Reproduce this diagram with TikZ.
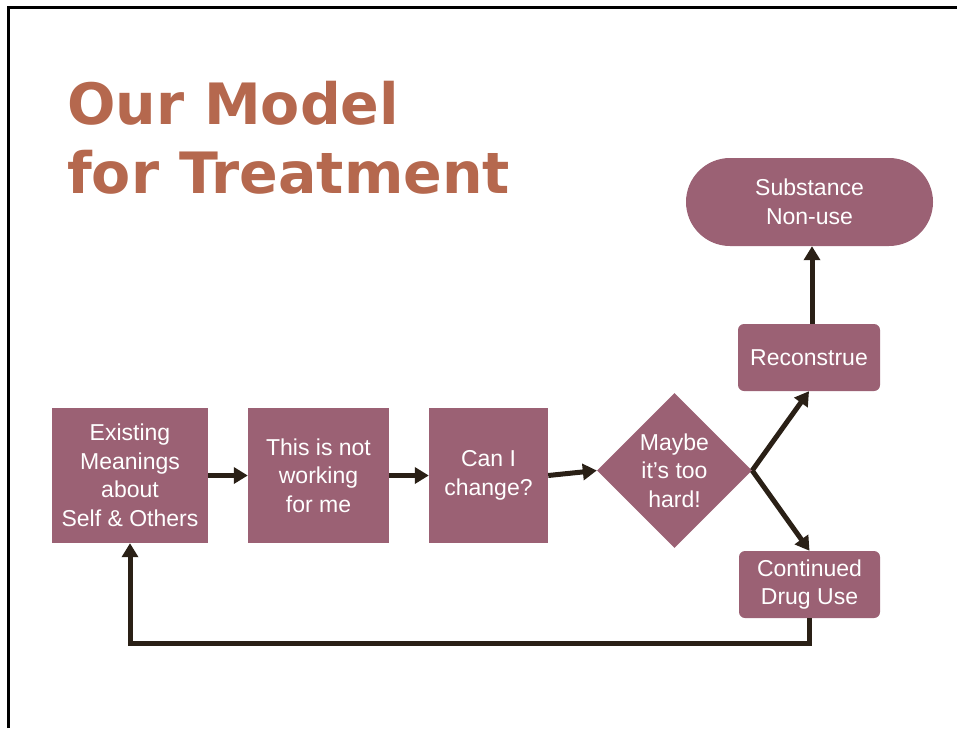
\documentclass[tikz,border=0pt]{standalone}
\usepackage{fontspec}
\setmainfont{Liberation Sans}
\newfontfamily\headfont{DejaVu Sans}
\usepackage{tikz}
\usetikzlibrary{positioning, arrows.meta, shapes.geometric}
\definecolor{plum}{RGB}{155,97,116}
\definecolor{rust}{RGB}{181,104,78}
\definecolor{bark}{RGB}{42,32,22}
\tikzstyle{blk}=[fill=plum, text=white, align=center, inner sep=2pt, font=\fontsize{23}{28.5}\selectfont]
\tikzstyle{dia}=[blk, shape=diamond, aspect=1, inner sep=0pt]
\tikzstyle{flow}=[draw=bark, line width=5pt, -{Triangle[length=14pt, width=16pt]}]

\begin{document}
\begin{tikzpicture}[x=1pt, y=-1pt]
\useasboundingbox (0,0) rectangle (957,728);
\draw[line width=2.6pt] (8.5,728) -- (8.5,7.5) -- (957,7.5);

\node[anchor=north west, inner sep=0pt, align=left, text=rust, font=\fontsize{57}{69}\headfont\bfseries] (title) at (67,81) {Our Model\\for Treatment};

\node[blk, minimum width=156pt, minimum height=135pt] (exist) at (130,475.5) {Existing\\Meanings\\about\\Self \& Others};
\node[blk, minimum width=141pt, minimum height=135pt] (work) at (318.5,475.5) {This is not\\working\\for me};
\node[blk, minimum width=119pt, minimum height=135pt] (canI) at (488.5,475.5) {Can I\\change?};
\node[dia, minimum width=155pt, minimum height=155pt] (hard) at (674.5,470.5) {Maybe\\it’s too\\hard!};
\node[blk, rounded corners=6pt, minimum width=142pt, minimum height=67pt] (recon) at (809,357.5) {Reconstrue};
\node[blk, rounded corners=6pt, minimum width=141pt, minimum height=67pt] (cont) at (809.5,584.5) {Continued\\Drug Use};
\node[blk, rounded corners=44pt, minimum width=247pt, minimum height=88pt] (nonuse) at (809.5,202) {Substance\\Non-use};

\draw[flow] (exist) -- (work);
\draw[flow] (work) -- (canI);
\draw[flow] (canI.east) -- (hard.west);
\draw[flow] (hard.east) -- (recon.south);
\draw[flow] (hard.east) -- (cont.north);
\draw[flow] ([xshift=3pt]recon.north) -- ([xshift=3pt]recon.north |- nonuse.south);
\draw[flow] (cont.south) -- ++(0,25) -| (exist.south);
\end{tikzpicture}
\end{document}
